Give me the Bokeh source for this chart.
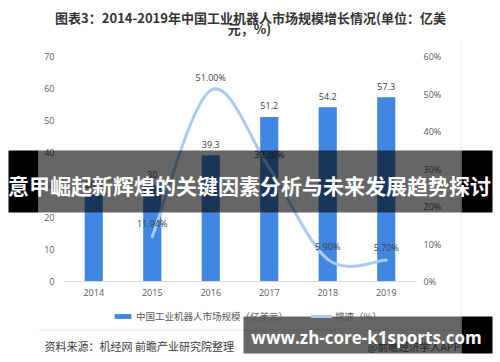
from bokeh.plotting import figure
from bokeh.models import (Range1d, LinearAxis, FixedTicker, PrintfTickFormatter,
                          ColumnDataSource, Label, BoxAnnotation, Legend, LegendItem)
from bokeh.core.properties import value
from bokeh.embed import file_html
from bokeh.resources import INLINE

# ---------------- data ----------------
years = ["2014", "2015", "2016", "2017", "2018", "2019"]
market_size = [26.8, 30.0, 39.3, 51.2, 54.2, 57.3]
size_labels = ["26.8", "30", "39.3", "51.2", "54.2", "57.3"]
growth_years = ["2015", "2016", "2017", "2018", "2019"]
growth_rate = [11.94, 51.00, 30.30, 5.90, 5.70]
growth_labels = ["11.94%", "51.00%", "30.30%", "5.90%", "5.70%"]
left_ticks = [0, 10, 20, 30, 40, 50, 60, 70]
right_ticks = [0, 10, 20, 30, 40, 50, 60]

title_line1 = "图表3：2014-2019年中国工业机器人市场规模增长情况(单位：亿美"
title_line2 = "元，%)"
legend_bar = "中国工业机器人市场规模（亿美元）"
legend_line = "增速（%）"
source_text = "资料来源：机经网 前瞻产业研究院整理"
credit_text = "@前瞻经济学人APP"
banner_text = "意甲崛起新辉煌的关键因素分析与未来发展趋势探讨"
url_text = "www.zh-core-k1sports.com"

CJK = "Noto Sans CJK SC"
NUM = "Open Sans"
BAR_COLOR = "#3F87E0"
LINE_COLOR = "#A9CAF5"

# ---------------- layout (pixels) ----------------
W, H = 500, 362
PLOT_L, PLOT_R = 64, 415      # x extent of the category band
PLOT_T, PLOT_B = 56, 281      # y of top tick / zero line
ncat = len(years)
ux = (PLOT_R - PLOT_L) / ncat
uy_left = (PLOT_B - PLOT_T) / left_ticks[-1]
uy_right = (PLOT_B - PLOT_T) / right_ticks[-1]

x_range = Range1d(-PLOT_L / ux, (W - PLOT_L) / ux)
y_range = Range1d(-(H - PLOT_B) / uy_left, PLOT_B / uy_left)

p = figure(width=W, height=H, x_range=x_range, y_range=y_range,
           x_axis_location=None, y_axis_location=None,
           output_backend="svg", toolbar_location=None, min_border=0)
p.outline_line_color = None
p.grid.visible = False
p.background_fill_color = "white"
p.border_fill_color = "white"
p.extra_y_ranges = {"pct": Range1d(-(H - PLOT_B) / uy_right, PLOT_B / uy_right)}

xpos = [i + 0.5 for i in range(ncat)]

# axes (fixed inside the frame)
left_ax = LinearAxis(fixed_location=0, ticker=FixedTicker(ticks=left_ticks))
right_ax = LinearAxis(y_range_name="pct", fixed_location=ncat,
                      ticker=FixedTicker(ticks=right_ticks),
                      formatter=PrintfTickFormatter(format="%d%%"))
x_ax = LinearAxis(fixed_location=0, ticker=FixedTicker(ticks=xpos),
                  major_label_overrides={xp: y for xp, y in zip(xpos, years)},
                  bounds=(0, ncat))
p.add_layout(left_ax, "left")
p.add_layout(right_ax, "right")
p.add_layout(x_ax, "below")
for ax in [left_ax, right_ax, x_ax]:
    ax.axis_line_color = None
    ax.major_tick_line_color = None
    ax.minor_tick_line_color = None
    ax.major_tick_out = 0
    ax.major_tick_in = 0
    ax.minor_tick_out = 0
    ax.minor_tick_in = 0
    ax.major_label_text_font_size = "9px"
    ax.major_label_text_color = "#595959"
    ax.major_label_text_font = NUM
left_ax.major_label_standoff = 10
right_ax.major_label_standoff = 8
x_ax.axis_line_color = "#D9D9D9"
x_ax.axis_line_width = 1
x_ax.major_label_standoff = 7

# bars
bar_src = ColumnDataSource(dict(x=xpos, size=market_size, lab=size_labels))
bars = p.vbar(x="x", top="size", width=0.31, source=bar_src,
              fill_color=BAR_COLOR, line_color=None)
p.text(x="x", y="size", text="lab", source=bar_src, y_offset=-11,
       text_align="center", text_baseline="middle", text_font_size="9px",
       text_color="#404040", text_font=value(NUM))

# smoothed growth line (cubic bezier segments through the data points)
gpos = [years.index(y) + 0.5 for y in growth_years]
pts = list(zip(gpos, growth_rate))
n = len(pts)
bz = dict(x0=[], y0=[], x1=[], y1=[], cx0=[], cy0=[], cx1=[], cy1=[])
for i in range(n - 1):
    pa = pts[i - 1] if i > 0 else pts[i]
    p0 = pts[i]
    p1 = pts[i + 1]
    pb = pts[i + 2] if i + 2 < n else pts[i + 1]
    bz["x0"].append(p0[0]); bz["y0"].append(p0[1])
    bz["x1"].append(p1[0]); bz["y1"].append(p1[1])
    bz["cx0"].append(p0[0] + (p1[0] - pa[0]) / 6.0)
    bz["cy0"].append(p0[1] + (p1[1] - pa[1]) / 6.0)
    bz["cx1"].append(p1[0] - (pb[0] - p0[0]) / 6.0)
    bz["cy1"].append(p1[1] - (pb[1] - p0[1]) / 6.0)
curve = p.bezier(x0="x0", y0="y0", x1="x1", y1="y1", cx0="cx0", cy0="cy0",
                 cx1="cx1", cy1="cy1", source=ColumnDataSource(bz), y_range_name="pct",
                 line_color=LINE_COLOR, line_width=3, line_cap="round")

g_src = ColumnDataSource(dict(x=gpos, rate=growth_rate, lab=growth_labels))
p.text(x="x", y="rate", text="lab", source=g_src, y_range_name="pct", y_offset=-13,
       text_align="center", text_baseline="middle", text_font_size="9px",
       text_color="#404040", text_font=value(NUM))

# legend
legend = Legend(items=[LegendItem(label=legend_bar, renderers=[bars]),
                       LegendItem(label=legend_line, renderers=[curve])],
                location=(112, 39), orientation="horizontal", padding=0, margin=0,
                spacing=23, label_standoff=3, glyph_width=21, glyph_height=6,
                label_height=6, label_text_font_size="9.5px", label_text_color="#595959",
                label_text_font=CJK, border_line_color=None, background_fill_alpha=0)
p.add_layout(legend)

def lab(x, y, text, size, color, font, bold=False, align="center"):
    p.add_layout(Label(x=x, y=H - y, x_units="screen", y_units="screen", text=text,
                       text_align=align, text_baseline="middle", text_font_size=size,
                       text_color=color, text_font=font,
                       text_font_style="bold" if bold else "normal"))

def box(l, r, t, b, color, alpha=1.0):
    p.add_layout(BoxAnnotation(left=l, right=r, top=H - t, bottom=H - b, left_units="screen",
                               right_units="screen", top_units="screen", bottom_units="screen",
                               fill_color=color, fill_alpha=alpha, line_color=None))

# title (page pixel positions, y from top)
lab(250, 17, title_line1, "13px", "#333333", CJK, bold=True)
lab(249, 28, title_line2, "13px", "#333333", CJK, bold=True)

# frame lines
box(460, 461, 40, 353, "#E6ECF5")
box(38, 460, 329, 330, "#E4EAF2")

# source + credit
lab(44, 345, source_text, "11px", "#404040", CJK, align="left")
lab(367, 346, credit_text, "10.5px", "#595959", CJK, align="left")

# banner 1
box(38, 461, 150, 212, "black", 0.6)
box(8, 38, 150, 212, "black")
box(461, 492, 150, 212, "black")
lab(249, 184, banner_text, "21px", "white", CJK, bold=True)

# banner 2
box(243, 461, 316, 353, "black", 0.6)
box(461, 492, 316, 353, "black")
lab(366, 337, url_text, "17px", "white", NUM, bold=True)

open("out.html", "w").write(file_html(p, INLINE))
